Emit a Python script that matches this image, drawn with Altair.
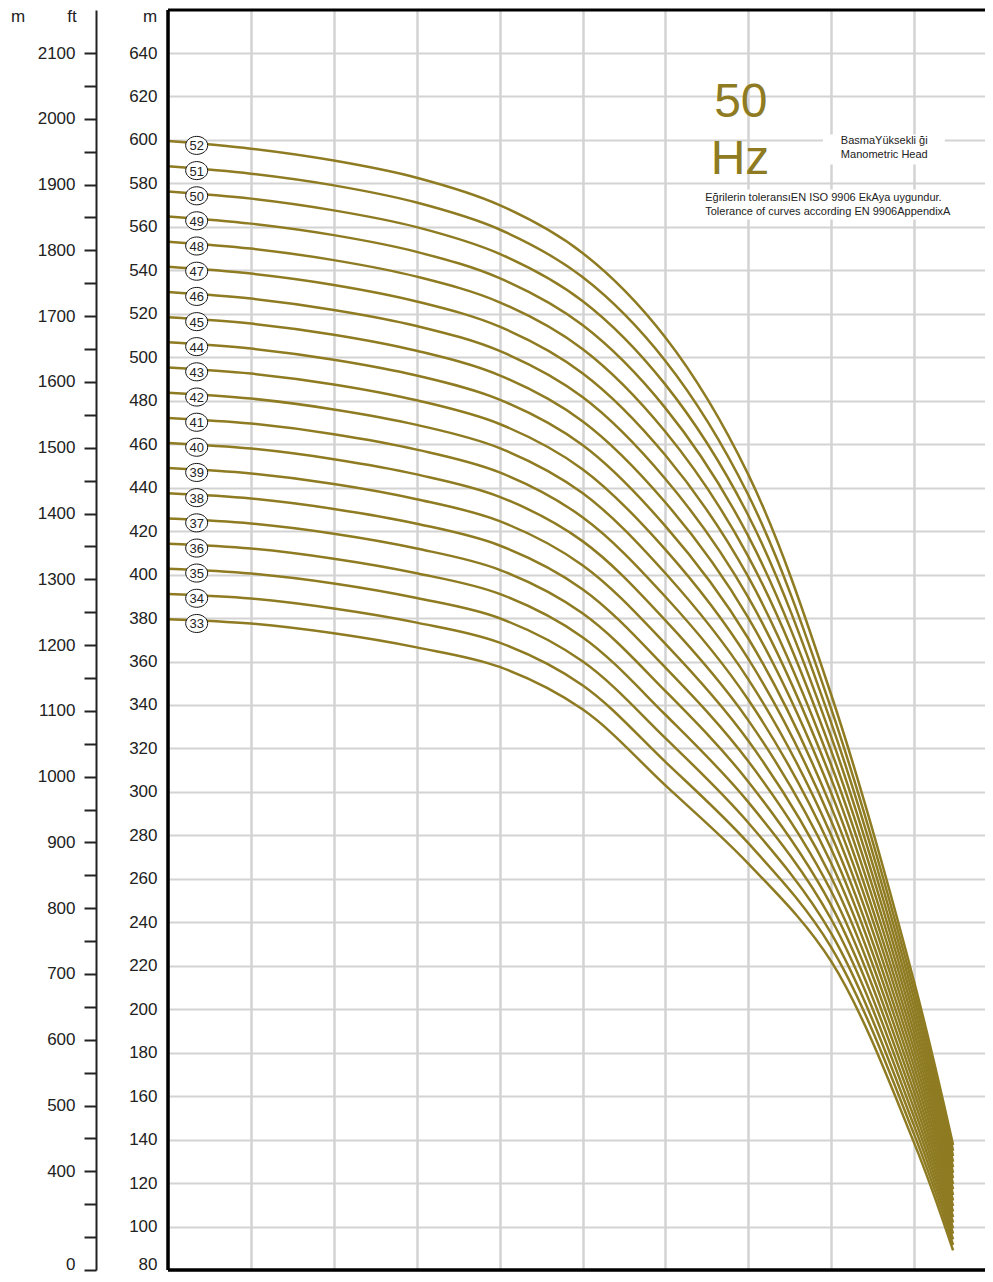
import altair as alt
import pandas as pd

# ---------------- data ----------------
q_points = [0, 1, 2, 3, 4, 5, 6, 7, 8, 9, 9.47]
stages = list(range(33, 53))
heads = {
    33: [379.5, 377.5, 373.0, 366.5, 357.5, 338.0, 303.0, 267.0, 222.0, 138.5, 89.0],
    34: [391.1, 389.0, 384.4, 377.9, 368.7, 349.1, 313.8, 276.4, 228.5, 142.4, 91.6],
    35: [402.7, 400.5, 395.9, 389.2, 379.9, 360.1, 324.7, 285.8, 234.9, 146.3, 94.1],
    36: [414.2, 412.0, 407.3, 400.6, 391.1, 371.2, 335.5, 295.3, 241.4, 150.2, 96.7],
    37: [425.8, 423.5, 418.8, 412.0, 402.2, 382.2, 346.4, 304.7, 247.8, 154.1, 99.2],
    38: [437.4, 435.0, 430.2, 423.4, 413.4, 393.3, 357.2, 314.1, 254.3, 158.0, 101.8],
    39: [449.0, 446.5, 441.7, 434.7, 424.6, 404.3, 368.1, 323.5, 260.7, 161.9, 104.3],
    40: [460.6, 458.0, 453.1, 446.1, 435.8, 415.4, 378.9, 332.9, 267.2, 165.8, 106.9],
    41: [472.1, 469.5, 464.6, 457.5, 447.0, 426.4, 389.8, 342.4, 273.7, 169.7, 109.4],
    42: [483.7, 481.0, 476.0, 468.9, 458.2, 437.5, 400.6, 351.8, 280.1, 173.6, 112.0],
    43: [495.3, 492.5, 487.5, 480.2, 469.3, 448.5, 411.5, 361.2, 286.6, 177.5, 114.5],
    44: [506.9, 504.0, 498.9, 491.6, 480.5, 459.6, 422.3, 370.6, 293.0, 181.4, 117.1],
    45: [518.4, 515.5, 510.4, 503.0, 491.7, 470.6, 433.2, 380.1, 299.5, 185.3, 119.6],
    46: [530.0, 527.0, 521.8, 514.4, 502.9, 481.7, 444.0, 389.5, 306.0, 189.2, 122.2],
    47: [541.6, 538.5, 533.3, 525.7, 514.1, 492.7, 454.9, 398.9, 312.4, 193.1, 124.7],
    48: [553.2, 550.0, 544.7, 537.1, 525.3, 503.8, 465.7, 408.3, 318.9, 197.0, 127.3],
    49: [564.8, 561.5, 556.2, 548.5, 536.4, 514.8, 476.6, 417.7, 325.3, 200.9, 129.8],
    50: [576.3, 573.0, 567.6, 559.9, 547.6, 525.9, 487.4, 427.2, 331.8, 204.8, 132.4],
    51: [587.9, 584.5, 579.1, 571.2, 558.8, 536.9, 498.3, 436.6, 338.2, 208.7, 134.9],
    52: [599.5, 596.0, 590.5, 582.6, 570.0, 548.0, 509.1, 446.0, 344.7, 212.6, 137.5],
}
m_ticks = list(range(80, 651, 10))
ft_ticks = list(range(250, 2101, 50))
x_grid = [0, 1, 2, 3, 4, 5, 6, 7, 8, 9]

OLIVE = "#8e7b22"
FONT = "Liberation Sans"
W, H = 817, 1260
X_DOM = [0, 9.855]
M_DOM = [80, 659.8]
FT_DOM = [250, 2165.4]

rows = [
    {"stage": n, "q": q, "H": h}
    for n in stages
    for q, h in zip(q_points, heads[n])
]
curves_df = pd.DataFrame(rows)
labels_df = pd.DataFrame(
    {"stage": [str(n) for n in stages], "q": 0.346, "H": [heads[n][0] - 2 for n in stages]}
)
ft_df = pd.DataFrame({"ft": ft_ticks})
one = pd.DataFrame({"a": [0]})

xs = alt.Scale(domain=X_DOM, nice=False, zero=False)
ys = alt.Scale(domain=M_DOM, nice=False, zero=False)

x_axis = alt.Axis(values=x_grid, grid=True, gridColor="#d3d3d3", gridWidth=2.5,
                  labels=False, ticks=False, domain=False, title=None)
y_axis = alt.Axis(values=m_ticks, grid=True, gridColor="#d3d3d3", gridWidth=2,
                  ticks=False, domain=False, title=None, labelFontSize=17,
                  labelColor="#222", labelPadding=11, labelOverlap=False,
                  labelFont=FONT, labelFlush=True, labelFlushOffset=3,
                  labelExpr="datum.value % 20 == 0 ? datum.label : ''")

grid_layer = alt.Chart(curves_df).mark_line(opacity=0).encode(
    x=alt.X("q:Q", scale=xs, axis=x_axis),
    y=alt.Y("H:Q", scale=ys, axis=y_axis),
    detail="stage:N",
)

boxes_df = pd.DataFrame({
    "x": [7.90, 6.42], "x2": [9.37, 9.77], "y": [602.5, 577.2], "y2": [588.7, 563.4]
})
boxes = alt.Chart(boxes_df).mark_rect(color="white").encode(
    x=alt.X("x:Q", scale=xs), x2="x2:Q",
    y=alt.Y("y:Q", scale=ys), y2="y2:Q",
)

lines = alt.Chart(curves_df).mark_line(
    color=OLIVE, strokeWidth=2.5, interpolate="catmull-rom"
).encode(
    x=alt.X("q:Q", scale=xs),
    y=alt.Y("H:Q", scale=ys),
    detail="stage:N",
)

ellipse = "M -1 0 A 1 0.82 0 1 1 1 0 A 1 0.82 0 1 1 -1 0 Z"
circles = alt.Chart(labels_df).mark_point(
    shape=ellipse, size=484, filled=True, fill="white", stroke="#111",
    strokeWidth=1, opacity=1
).encode(x=alt.X("q:Q", scale=xs), y=alt.Y("H:Q", scale=ys))

circle_text = alt.Chart(labels_df).mark_text(
    fontSize=13, font=FONT, color="#222", align="center", baseline="middle", dy=1
).encode(x=alt.X("q:Q", scale=xs), y=alt.Y("H:Q", scale=ys), text="stage:N")

ann_df = pd.DataFrame({
    "x": [6.91, 6.90],
    "y": [617.2, 591.0],
    "t": ["50", "Hz"],
})
hz = alt.Chart(ann_df).mark_text(
    fontSize=48, font=FONT, color=OLIVE, align="center", baseline="middle"
).encode(x=alt.X("x:Q", scale=xs), y=alt.Y("y:Q", scale=ys), text="t:N")

head_df = pd.DataFrame({
    "x": [8.64, 8.64],
    "y": [599.4, 593.3],
    "t": ["BasmaYüksekli ği", "Manometric Head"],
})
head_txt = alt.Chart(head_df).mark_text(
    fontSize=11, font=FONT, color="#222", align="center", baseline="middle"
).encode(x=alt.X("x:Q", scale=xs), y=alt.Y("y:Q", scale=ys), text="t:N")

tol_df = pd.DataFrame({
    "x": [6.48, 6.48],
    "y": [573.5, 566.7],
    "t": ["Eğrilerin toleransıEN ISO 9906 EkAya uygundur.",
          "Tolerance of curves according EN 9906AppendixA"],
})
tol_txt = alt.Chart(tol_df).mark_text(
    fontSize=11, font=FONT, color="#222", align="left", baseline="middle"
).encode(x=alt.X("x:Q", scale=xs), y=alt.Y("y:Q", scale=ys), text="t:N")

# frame (left, top, bottom)
left_b = alt.Chart(one).mark_rule(color="black", strokeWidth=3.5).encode(
    x=alt.value(0), y=alt.value(0), y2=alt.value(H))
top_b = alt.Chart(one).mark_rule(color="black", strokeWidth=3).encode(
    x=alt.value(0), x2=alt.value(W), y=alt.value(0))
bot_b = alt.Chart(one).mark_rule(color="black", strokeWidth=3.5).encode(
    x=alt.value(0), x2=alt.value(W), y=alt.value(H))

titles_df = pd.DataFrame({"px": [-150, -96, -18], "t": ["m", "ft", "m"]})
titles = alt.Chart(titles_df).mark_text(
    fontSize=17, font=FONT, color="#222", align="center", baseline="alphabetic"
).encode(x=alt.X("px:Q", scale=None), y=alt.value(12), text="t:N")

ft_axis_layer = alt.Chart(ft_df).mark_point(opacity=0).encode(
    x=alt.value(0),
    y=alt.Y("ft:Q", scale=alt.Scale(domain=FT_DOM, nice=False, zero=False),
            axis=alt.Axis(orient="left", offset=72, values=ft_ticks, format="d",
                          tickSize=12, tickWidth=2, tickColor="#222",
                          domainColor="#222", domainWidth=2, grid=False,
                          title=None, labelFontSize=17, labelColor="#222",
                          labelFont=FONT, labelPadding=9, labelOverlap=False,
                          labelFlush=True, labelFlushOffset=3,
                          labelExpr="datum.value == 250 ? '0' : (datum.value % 100 == 0 && datum.value >= 400 ? datum.label : '')")),
)

main = alt.layer(grid_layer, boxes, lines, circles, circle_text, hz, head_txt,
                 tol_txt, left_b, top_b, bot_b, titles)

chart = alt.layer(main, ft_axis_layer).resolve_scale(y="independent").properties(
    width=W, height=H,
    autosize=alt.AutoSizeParams(type="none"),
    padding={"left": 160, "top": 2, "right": 0, "bottom": 3},
).configure_view(stroke=None)

chart.save("out.html", embed_options={"renderer": "svg", "actions": False})
